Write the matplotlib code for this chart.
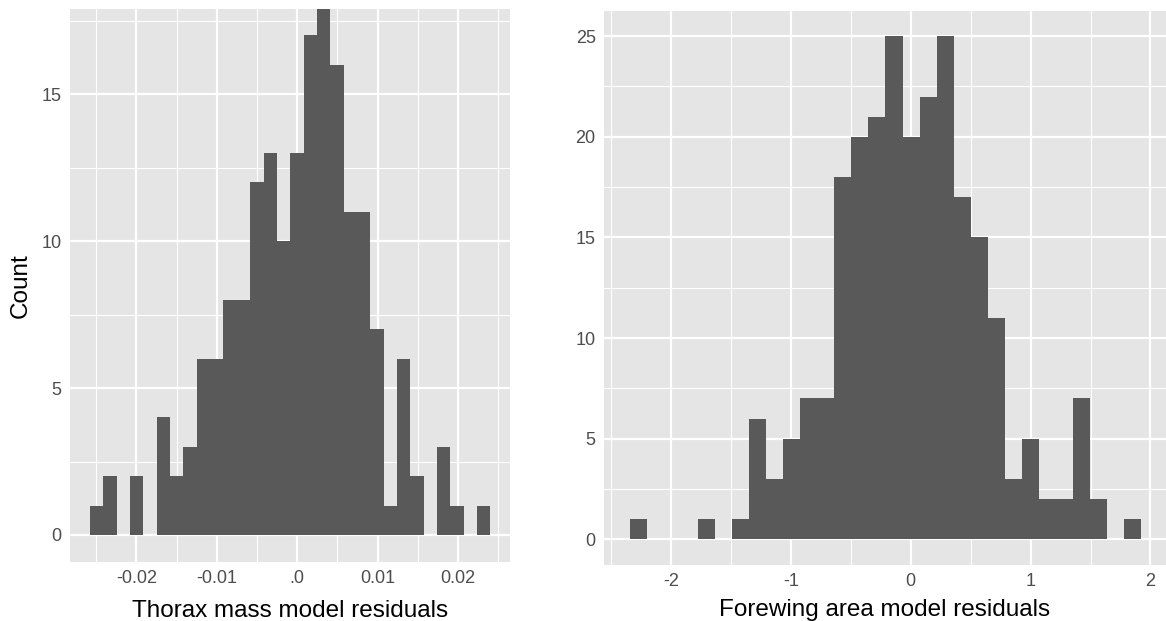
import numpy as np
import matplotlib.pyplot as plt
from matplotlib.ticker import MultipleLocator, FixedLocator

plt.rcParams['font.family'] = ['Liberation Sans', 'DejaVu Sans']

# counts per bin (30 bins each)
thorax_counts = [1, 2, 0, 2, 0, 4, 2, 3, 6, 6,
                 8, 8, 12, 13, 10, 13, 17, 18, 16, 11,
                 11, 7, 1, 6, 2, 0, 3, 1, 0, 1]
thorax_range = (-0.02575, 0.02402)

forewing_counts = [1, 0, 0, 0, 1, 0, 1, 6, 3, 5,
                   7, 7, 18, 20, 21, 25, 20, 22, 25, 17,
                   15, 11, 3, 5, 2, 2, 7, 2, 0, 1]
forewing_range = (-2.345, 1.923)

thorax_xticks = [-0.02, -0.01, 0.0, 0.01, 0.02]
thorax_xlabels = ['-0.02', '-0.01', '.0', '0.01', '0.02']
forewing_xticks = [-2, -1, 0, 1, 2]
forewing_xlabels = ['-2', '-1', '0', '1', '2']

bar_col = '#595959'
panel_col = '#e5e5e5'
text_col = '#4d4d4d'

fig = plt.figure(figsize=(11.66, 6.21), dpi=100)
W, H = 1166, 621
ax1 = fig.add_axes([70 / W, 1 - 562 / H, 440 / W, 553 / H])
ax2 = fig.add_axes([604 / W, 1 - 565 / H, 562 / W, 554 / H])


def style(ax, xmajor, xminor, ymajor, yminor):
    ax.set_facecolor(panel_col)
    for s in ax.spines.values():
        s.set_visible(False)
    ax.xaxis.set_major_locator(FixedLocator(xmajor))
    ax.xaxis.set_minor_locator(FixedLocator(xminor))
    ax.yaxis.set_major_locator(MultipleLocator(ymajor))
    ax.yaxis.set_minor_locator(MultipleLocator(yminor))
    ax.grid(which='major', color='white', linewidth=1.6)
    ax.grid(which='minor', color='white', linewidth=0.8)
    ax.set_axisbelow(True)
    ax.tick_params(which='both', length=0, labelsize=13, labelcolor=text_col, pad=6)


# left: thorax mass
edges1 = np.linspace(thorax_range[0], thorax_range[1], len(thorax_counts) + 1)
ax1.stairs(thorax_counts, edges1, fill=True, color=bar_col, baseline=0)
style(ax1, thorax_xticks, [-0.025, -0.015, -0.005, 0.005, 0.015, 0.025], 5, 2.5)
ax1.set_xticklabels(thorax_xlabels)
ax1.set_xlim(-0.02824, 0.02646)
ax1.set_ylim(-0.92, 17.9)
ax1.set_xlabel('Thorax mass model residuals', fontsize=17.5, labelpad=9)
ax1.set_ylabel('Count', fontsize=17.5, labelpad=7)

# right: forewing area
edges2 = np.linspace(forewing_range[0], forewing_range[1], len(forewing_counts) + 1)
ax2.stairs(forewing_counts, edges2, fill=True, color=bar_col, baseline=0)
style(ax2, forewing_xticks, [-2.5, -1.5, -0.5, 0.5, 1.5, 2.5], 5, 2.5)
ax2.set_xticklabels(forewing_xlabels)
ax2.set_xlim(-2.56, 2.13)
ax2.set_ylim(-1.28, 26.25)
ax2.set_xlabel('Forewing area model residuals', fontsize=17.5, labelpad=6)

fig.savefig('out.png', dpi=100)
